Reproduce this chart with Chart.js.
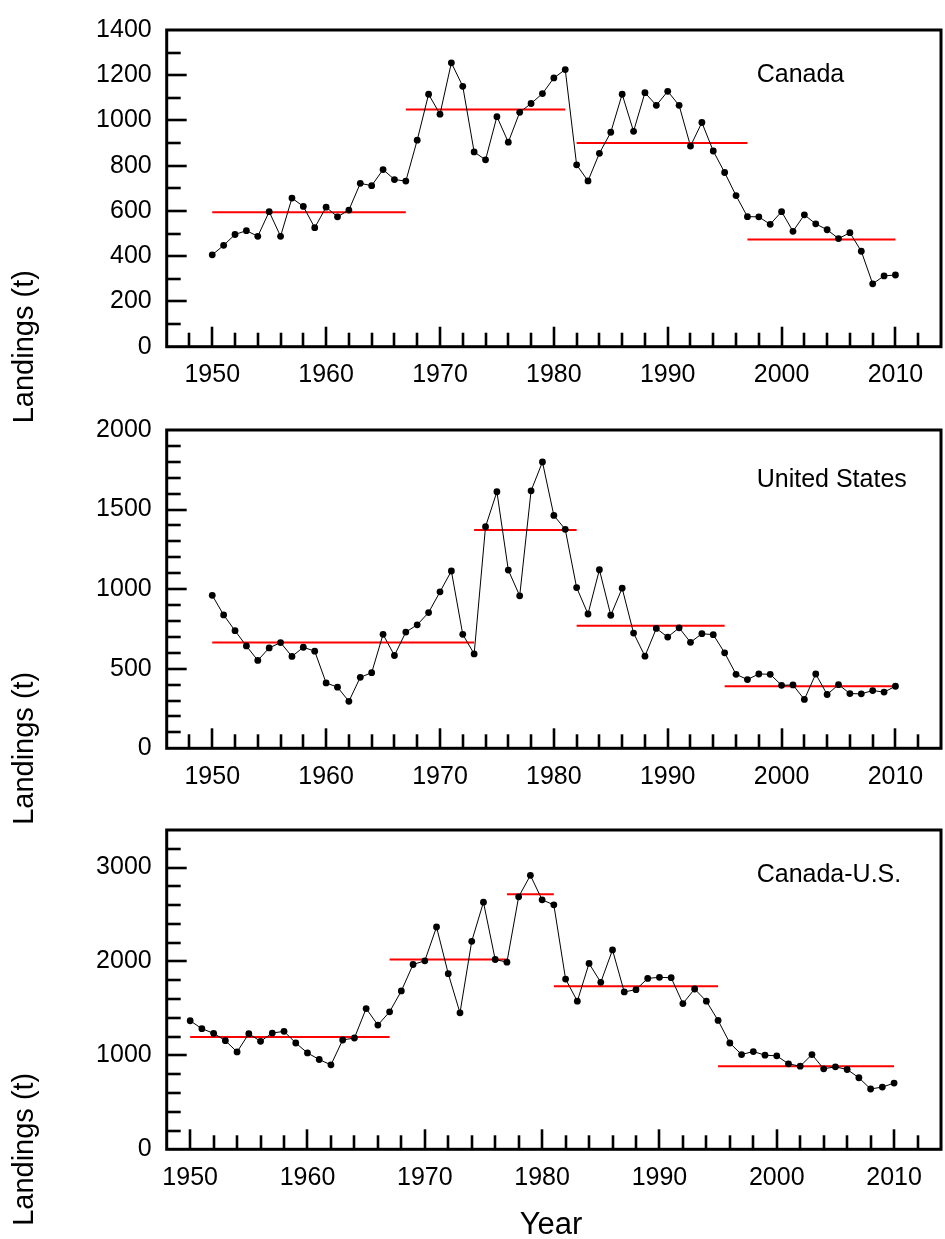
<!DOCTYPE html>
<html>
<head>
<meta charset="utf-8">
<script src="https://cdn.jsdelivr.net/npm/chart.js@4.4.1/dist/chart.umd.min.js"></script>
<style>
  html, body { margin: 0; padding: 0; background: #fff; }
  #wrap { position: relative; width: 945px; height: 1239px; overflow: hidden; }
  canvas { position: absolute; left: 0; }
</style>
</head>
<body>
<div id="wrap">
  <canvas id="c1" width="945" height="440" style="top:0px"></canvas>
  <canvas id="c2" width="945" height="440" style="top:400px"></canvas>
  <canvas id="c3" width="945" height="439" style="top:800px"></canvas>
</div>
<script>
// Years of landings
const years = [
  1950, 1951, 1952, 1953, 1954, 1955, 1956, 1957, 1958, 1959,
  1960, 1961, 1962, 1963, 1964, 1965, 1966, 1967, 1968, 1969,
  1970, 1971, 1972, 1973, 1974, 1975, 1976, 1977, 1978, 1979,
  1980, 1981, 1982, 1983, 1984, 1985, 1986, 1987, 1988, 1989,
  1990, 1991, 1992, 1993, 1994, 1995, 1996, 1997, 1998, 1999,
  2000, 2001, 2002, 2003, 2004, 2005, 2006, 2007, 2008, 2009,
  2010
];

// Landings (t)
const canadaLandings = [
  406, 448, 496, 513, 488, 597, 488, 657, 620, 526,
  617, 574, 604, 722, 712, 783, 739, 732, 913, 1116,
  1028, 1255, 1151, 861, 826, 1017, 904, 1036, 1075, 1119,
  1188, 1225, 804, 733, 855, 948, 1116, 952, 1123, 1067,
  1129, 1067, 887, 991, 865, 770, 668, 575, 574, 541,
  597, 510, 583, 543, 517, 478, 504, 422, 278, 313,
  317
];
const usLandings = [
  961, 838, 739, 643, 552, 631, 664, 577, 635, 610,
  411, 384, 295, 446, 475, 716, 583, 730, 776, 853,
  983, 1114, 716, 593, 1392, 1612, 1120, 958, 1618, 1799,
  1463, 1376, 1010, 844, 1122, 836, 1006, 724, 579, 753,
  699, 757, 666, 720, 714, 600, 465, 432, 467, 465,
  396, 398, 307, 467, 338, 400, 344, 342, 363, 353,
  390
];
const combinedLandings = [
  1369, 1284, 1235, 1157, 1037, 1231, 1150, 1238, 1256, 1132,
  1026, 956, 899, 1164, 1185, 1499, 1323, 1464, 1686, 1968,
  2007, 2367, 1870, 1453, 2215, 2631, 2021, 1993, 2688, 2917,
  2656, 2603, 1813, 1577, 1979, 1778, 2123, 1676, 1700, 1820,
  1831, 1827, 1552, 1707, 1577, 1372, 1132, 1009, 1041, 1002,
  995, 910, 885, 1009, 857, 878, 850, 762, 642, 663,
  705
];

// Period means (red lines)
const canadaMeanStart = [1950, 1967, 1982, 1997];
const canadaMeanEnd = [1967, 1981, 1997, 2010];
const canadaMeanValue = [594, 1049, 901, 474];

const usMeanStart = [1950, 1973, 1982, 1995];
const usMeanEnd = [1973, 1982, 1995, 2010];
const usMeanValue = [664, 1371, 770, 390];

const combinedMeanStart = [1950, 1967, 1977, 1981, 1995];
const combinedMeanEnd = [1967, 1977, 1981, 1995, 2010];
const combinedMeanValue = [1196, 2021, 2716, 1735, 885];

// Tick labels
const xTickLabels = [1950, 1960, 1970, 1980, 1990, 2000, 2010];
const canadaYTicks = [0, 200, 400, 600, 800, 1000, 1200, 1400];
const usYTicks = [0, 500, 1000, 1500, 2000];
const combinedYTicks = [0, 1000, 2000, 3000];

const FONT = "'Liberation Sans', Arial, Helvetica, sans-serif";

// frame, inward tick marks and text labels
const framePlugin = {
  id: 'frame',
  afterDraw(chart, args, opts) {
    const { ctx, chartArea: a, scales } = chart;
    const xs = scales.x, ys = scales.y;
    ctx.save();
    ctx.strokeStyle = '#000';
    ctx.lineWidth = 2.6;
    ctx.lineCap = 'butt';
    // y ticks
    for (let v = opts.yMinor; v < ys.max; v += opts.yMinor) {
      const py = Math.round(ys.getPixelForValue(v));
      const len = v % opts.yMajor === 0 ? 20 : 14;
      ctx.beginPath();
      ctx.moveTo(a.left, py);
      ctx.lineTo(a.left + len, py);
      ctx.stroke();
    }
    // x ticks
    for (let v = 1948; v < xs.max; v += 2) {
      if (v <= xs.min) continue;
      const px = Math.round(xs.getPixelForValue(v));
      const len = v % 10 === 0 ? 20 : 14;
      ctx.beginPath();
      ctx.moveTo(px, a.bottom);
      ctx.lineTo(px, a.bottom - len);
      ctx.stroke();
    }
    ctx.lineWidth = 3;
    ctx.strokeRect(a.left, a.top, a.right - a.left, a.bottom - a.top);

    ctx.fillStyle = '#000';
    // panel name
    ctx.font = '25px ' + FONT;
    ctx.textAlign = 'left';
    ctx.textBaseline = 'middle';
    ctx.fillText(opts.name, a.left + 590, a.top + opts.nameDy);
    // y title
    ctx.save();
    ctx.translate(25, a.bottom);
    ctx.rotate(-Math.PI / 2);
    ctx.font = '29px ' + FONT;
    ctx.textAlign = 'center';
    ctx.textBaseline = 'middle';
    ctx.fillText('Landings (t)', 0, 0);
    ctx.restore();
    if (opts.xTitle) {
      ctx.font = '31px ' + FONT;
      ctx.textAlign = 'center';
      ctx.textBaseline = 'middle';
      ctx.fillText(opts.xTitle, 551, a.bottom + 76);
    }
    ctx.restore();
  }
};

function makePanel(id, cfg) {
  const series = years.map((yr, i) => ({ x: yr, y: cfg.values[i] }));
  const datasets = [{
    data: series,
    borderColor: '#000',
    borderWidth: 1,
    pointRadius: 3.4,
    pointBackgroundColor: '#000',
    pointBorderWidth: 0,
    tension: 0,
    order: 0
  }];
  cfg.meanStart.forEach((s, i) => {
    datasets.push({
      data: [{ x: s, y: cfg.meanValue[i] }, { x: cfg.meanEnd[i], y: cfg.meanValue[i] }],
      borderColor: '#ff0000',
      borderWidth: 2,
      pointRadius: 0,
      order: 1
    });
  });

  new Chart(document.getElementById(id), {
    type: 'line',
    data: { datasets: datasets },
    plugins: [framePlugin],
    options: {
      responsive: false,
      animation: false,
      events: [],
      layout: { padding: { top: cfg.top, left: 0, right: 1.7, bottom: 0 } },
      plugins: {
        legend: { display: false },
        tooltip: { enabled: false },
        frame: { name: cfg.name, nameDy: cfg.nameDy, yMinor: cfg.yMinor, yMajor: cfg.yMajor, xTitle: cfg.xTitle }
      },
      scales: {
        x: {
          type: 'linear',
          min: cfg.xMin,
          max: 2014,
          grid: { display: false, drawTicks: false },
          border: { display: false },
          afterBuildTicks: s => { s.ticks = xTickLabels.map(v => ({ value: v })); },
          afterFit: s => { s.height = cfg.xHeight; },
          ticks: {
            padding: 13.5,
            color: '#000',
            font: { family: FONT, size: 25 },
            callback: v => String(v)
          }
        },
        y: {
          min: 0,
          max: cfg.yMax,
          grid: { display: false, drawTicks: false },
          border: { display: false },
          afterBuildTicks: s => { s.ticks = cfg.yTicks.map(v => ({ value: v })); },
          afterFit: s => { s.width = 166.7; },
          ticks: {
            padding: 15,
            color: '#000',
            font: { family: FONT, size: 25 },
            callback: v => String(v)
          }
        }
      }
    }
  });
}

makePanel('c1', {
  name: 'Canada', nameDy: 45, top: 25, xHeight: 93.3, xMin: 1946, yMax: 1400,
  yMinor: 100, yMajor: 200, yTicks: canadaYTicks,
  values: canadaLandings, meanStart: canadaMeanStart, meanEnd: canadaMeanEnd, meanValue: canadaMeanValue
});
makePanel('c2', {
  name: 'United States', nameDy: 50, top: 26.7, xHeight: 91.7, xMin: 1946, yMax: 2000,
  yMinor: 100, yMajor: 500, yTicks: usYTicks,
  values: usLandings, meanStart: usMeanStart, meanEnd: usMeanEnd, meanValue: usMeanValue
});
makePanel('c3', {
  name: 'Canada-U.S.', nameDy: 45, top: 28.3, xHeight: 89.7, xMin: 1948, yMax: 3400,
  yMinor: 200, yMajor: 1000, yTicks: combinedYTicks, xTitle: 'Year',
  values: combinedLandings, meanStart: combinedMeanStart, meanEnd: combinedMeanEnd, meanValue: combinedMeanValue
});
</script>
</body>
</html>
